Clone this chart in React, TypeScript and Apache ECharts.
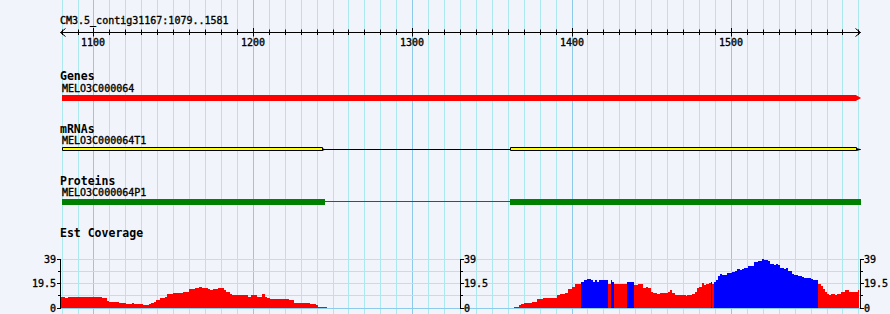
import React, { useEffect, useRef } from 'react';
import * as echarts from 'echarts';

// ---------- data ----------
const regionTitle = 'CM3.5_contig31167:1079..1581';
const regionStart = 1079;
const regionEnd = 1581;
const rulerTicks: number[] = [];
for (let v = 1080; v <= 1580; v += 10) rulerTicks.push(v);
const rulerMajorStep = 100;

const trackLabels = ['Genes', 'mRNAs', 'Proteins', 'Est Coverage'];

const geneName = 'MELO3C000064';
const geneSpan = [1080.2, 1581];
const mrnaName = 'MELO3C000064T1';
const mrnaExons = [
  [1080.2, 1243.5],
  [1361.4, 1581],
];
const proteinName = 'MELO3C000064P1';
const proteinExons = [
  [1080.2, 1245.3],
  [1361.4, 1581.4],
];

const covMax = 39;
const covScaleTicks = [0, 9.75, 19.5, 29.25, 39];
const covScaleMajor = [0, 19.5, 39];

const covStarts = [
  1079.4, 1081.9, 1084.0, 1105.1, 1108.7, 1109.5, 1116.0, 1120.4, 1124.2, 1125.4,
  1131.1, 1134.6, 1135.9, 1138.0, 1139.5, 1141.5, 1144.7, 1146.3, 1149.9, 1156.2,
  1160.0, 1163.5, 1166.2, 1168.3, 1171.7, 1173.1, 1175.2, 1178.4, 1181.9, 1183.2,
  1185.5, 1186.9, 1196.8, 1198.9, 1202.6, 1205.8, 1207.6, 1208.9, 1210.8, 1222.7,
  1226.0, 1235.9, 1239.4, 1240.7, 1246.3,
  1363.9, 1367.0, 1368.3, 1370.2, 1375.2, 1378.5, 1382.1, 1390.9, 1392.8, 1395.9,
  1398.0, 1400.1, 1402.2, 1405.9, 1407.8, 1409.7, 1412.2, 1413.5, 1414.7, 1416.0,
  1417.2, 1422.9, 1424.5, 1425.6, 1426.6, 1429.8, 1431.7, 1434.8, 1439.2, 1441.7,
  1444.8, 1446.7, 1448.0, 1449.9, 1451.1, 1453.6, 1455.5, 1460.5, 1461.8, 1463.0,
  1464.9, 1471.8, 1472.4, 1475.6, 1477.5, 1478.8, 1480.0, 1481.9, 1483.1, 1484.4,
  1486.3, 1487.6, 1488.3, 1489.4, 1490.6, 1491.9, 1493.2, 1494.4, 1497.6, 1500.7,
  1502.6, 1503.8, 1505.7, 1507.0, 1508.2, 1510.7, 1512.0, 1514.5, 1517.0, 1519.5,
  1520.8, 1523.3, 1524.5, 1527.0, 1528.3, 1529.5, 1530.8, 1533.3, 1534.6, 1535.8,
  1537.1, 1538.3, 1539.6, 1542.1, 1544.6, 1545.9, 1547.1, 1549.0, 1550.3, 1551.5,
  1554.7, 1556.5, 1557.8, 1559.1, 1560.3, 1561.6, 1562.8, 1565.3, 1566.6, 1569.1,
  1571.6, 1574.1, 1579.7,
];
const covValues = [
  8.7, 7.9, 8.7, 7.9, 5.8, 4.7, 4.0, 3.2, 4.0, 3.2,
  2.6, 3.2, 4.0, 5.0, 6.6, 7.9, 8.4, 11.1, 11.6, 12.6,
  15.0, 16.0, 16.9, 16.1, 15.0, 14.5, 15.3, 16.1, 14.5, 12.6,
  11.3, 10.5, 9.0, 10.5, 9.0, 11.3, 9.0, 8.2, 7.1, 6.1,
  4.2, 3.4, 2.6, 0.8, 0,
  0.8, 2.1, 2.9, 4.0, 4.7, 6.9, 7.9, 10.0, 10.8, 11.6,
  15.3, 16.6, 19.5, 20.3, 21.9, 22.9, 21.9, 20.3, 21.9, 20.3,
  21.9, 19.5, 21.9, 20.3, 19.5, 19.0, 19.5, 20.5, 18.2, 19.0,
  16.1, 16.9, 16.1, 12.6, 11.9, 11.1, 11.9, 12.6, 14.2, 12.1,
  10.3, 9.2, 10.3, 11.1, 12.6, 15.8, 16.9, 19.8, 18.7, 19.0,
  19.8, 20.6, 19.5, 20.6, 22.4, 25.3, 26.9, 26.1, 27.7, 28.5,
  29.8, 30.8, 30.3, 31.1, 32.1, 33.3, 33.7, 36.6, 37.7, 39.0,
  38.5, 37.2, 35.3, 34.3, 34.8, 34.3, 32.1, 30.8, 31.6, 29.8,
  29.2, 27.4, 26.6, 25.8, 24.8, 24.2, 23.5, 24.2, 22.9, 22.1,
  19.2, 17.7, 15.5, 12.6, 11.3, 10.5, 11.1, 10.5, 11.1, 12.6,
  14.0, 12.6, 14.2,
];
const covColors = [
  'r', 'r', 'r', 'r', 'r', 'r', 'r', 'r', 'r', 'r',
  'r', 'r', 'r', 'r', 'r', 'r', 'r', 'r', 'r', 'r',
  'r', 'r', 'r', 'r', 'r', 'r', 'r', 'r', 'r', 'r',
  'r', 'r', 'r', 'r', 'r', 'r', 'r', 'r', 'r', 'r',
  'r', 'r', 'r', 'r', 'r',
  'r', 'r', 'r', 'r', 'r', 'r', 'r', 'r', 'r', 'r',
  'r', 'r', 'r', 'b', 'b', 'b', 'b', 'b', 'b', 'b',
  'b', 'r', 'b', 'b', 'r', 'r', 'r', 'b', 'r', 'r',
  'r', 'r', 'r', 'r', 'r', 'r', 'r', 'r', 'r', 'r',
  'r', 'r', 'r', 'r', 'r', 'r', 'r', 'r', 'r', 'r',
  'r', 'b', 'r', 'b', 'b', 'b', 'b', 'b', 'b', 'b',
  'b', 'b', 'b', 'b', 'b', 'b', 'b', 'b', 'b', 'b',
  'b', 'b', 'b', 'b', 'b', 'b', 'b', 'b', 'b', 'b',
  'b', 'b', 'b', 'b', 'b', 'b', 'b', 'b', 'b', 'b',
  'r', 'r', 'r', 'r', 'r', 'r', 'r', 'r', 'r', 'r',
  'r', 'r', 'r',
];
const covEnd = 1580.4;

// ---------- styles ----------
const BG = '#f1f5fb';
const GRID_MINOR = '#ace9ef';
const GRID_MAJOR = '#8ccbeb';
const MONO = "'DejaVu Sans Mono', 'Liberation Mono', monospace";
const SMALL_FONT = `10px ${MONO}`;
const BOLD_FONT = `bold 11.5px ${MONO}`;
const RED = '#ff0000';
const BLUE = '#0000ff';
const YELLOW = '#ffff00';
const GREEN = '#008000';

const LAYOUT = {
  height: 314,
  titleY: 20.5,
  rulerY: 32.5,
  rulerLabelY: 42,
  labelY: [76, 128.5, 180.5, 232.5],
  geneNameY: 88,
  geneTop: 95,
  mrnaNameY: 140,
  mrnaTop: 147.5,
  proteinNameY: 192,
  proteinTop: 199,
};

function txt(text: string, x: number, y: number, font: string, align: string, z?: number) {
  const small = font === SMALL_FONT;
  const style: any = {
    text,
    font,
    fill: '#000',
    align,
    textAlign: align,
    verticalAlign: 'middle',
    textVerticalAlign: 'middle',
  };
  if (small) {
    style.stroke = '#000';
    style.lineWidth = 0.35;
  }
  const el: any = { type: 'text', x, y, silent: true, style };
  if (z != null) el.z = z;
  return el;
}

const px = (v: number) => Math.round(v);

function buildOption() {
  const covData = covStarts.map((s, i) => [
    s,
    i < covStarts.length - 1 ? covStarts[i + 1] : covEnd,
    covValues[i],
    covColors[i] === 'b' ? 1 : 0,
  ]);

  const gridLines = {
    type: 'custom',
    z: 1,
    clip: false,
    silent: true,
    data: rulerTicks.map((t) => [t, 0]),
    renderItem: (params: any, api: any) => {
      const v = api.value(0);
      const x = px(api.coord([v, 0])[0]) + 0.5;
      const major = v % rulerMajorStep === 0;
      return {
        type: 'line',
        shape: { x1: x, y1: 0, x2: x, y2: LAYOUT.height },
        style: { stroke: major ? GRID_MAJOR : GRID_MINOR, lineWidth: 1 },
      };
    },
  };

  const covGrid = {
    type: 'custom',
    z: 1,
    clip: false,
    silent: true,
    data: covScaleTicks.map((t) => [regionStart, t]),
    renderItem: (params: any, api: any) => {
      const v = api.value(1);
      const y = Math.floor(api.coord([regionStart, v])[1]) + 0.5;
      const x0 = api.coord([regionStart, 0])[0];
      const x1 = api.coord([regionEnd, 0])[0];
      return {
        type: 'line',
        shape: { x1: x0, y1: y, x2: x1, y2: y },
        style: { stroke: v === 0 ? GRID_MAJOR : GRID_MINOR, lineWidth: 1 },
      };
    },
  };

  const rulerTicksSeries = {
    type: 'custom',
    z: 5,
    clip: false,
    silent: true,
    data: rulerTicks.map((t) => [t, 0]),
    renderItem: (params: any, api: any) => {
      const v = api.value(0);
      const x = px(api.coord([v, 0])[0]) + 0.5;
      const major = v % rulerMajorStep === 0;
      const children: any[] = [
        {
          type: 'line',
          shape: { x1: x, y1: major ? 28 : 29.5, x2: x, y2: major ? 36.5 : 35 },
          style: { stroke: '#000', lineWidth: 1 },
        },
      ];
      if (major) children.push(txt(String(v), x - 0.5, LAYOUT.rulerLabelY, SMALL_FONT, 'center'));
      return { type: 'group', children };
    },
  };

  const rulerLine = {
    type: 'custom',
    z: 5,
    clip: false,
    silent: true,
    data: [[regionStart, regionEnd]],
    renderItem: (params: any, api: any) => {
      const x0 = px(api.coord([api.value(0), 0])[0]) + 0.5;
      const x1 = px(api.coord([api.value(1), 0])[0]) + 0.5;
      const y = LAYOUT.rulerY;
      return {
        type: 'group',
        children: [
          { type: 'line', shape: { x1: x0, y1: y, x2: x1, y2: y }, style: { stroke: '#000', lineWidth: 1 } },
          {
            type: 'polyline',
            shape: { points: [[x0 + 5, y - 4], [x0, y], [x0 + 5, y + 4]] },
            style: { stroke: '#000', lineWidth: 1, fill: 'none' },
          },
          {
            type: 'polyline',
            shape: { points: [[x1 - 5, y - 4], [x1, y], [x1 - 5, y + 4]] },
            style: { stroke: '#000', lineWidth: 1, fill: 'none' },
          },
          txt(regionTitle, 60, LAYOUT.titleY, SMALL_FONT, 'left'),
        ],
      };
    },
  };

  const geneSeries = {
    type: 'custom',
    z: 6,
    clip: false,
    silent: true,
    data: [geneSpan],
    renderItem: (params: any, api: any) => {
      const x0 = px(api.coord([api.value(0), 0])[0]);
      const x1 = px(api.coord([api.value(1), 0])[0]) + 1;
      const t = LAYOUT.geneTop;
      return {
        type: 'group',
        children: [
          {
            type: 'polygon',
            shape: {
              points: [
                [x0, t], [x1 - 5, t], [x1 - 4, t + 0.7], [x1 - 1.5, t + 2], [x1, t + 3],
                [x1 - 1.5, t + 4], [x1 - 4, t + 5.3], [x1 - 5, t + 6], [x0, t + 6],
              ],
            },
            style: { fill: RED },
          },
          txt(geneName, x0, LAYOUT.geneNameY, SMALL_FONT, 'left'),
        ],
      };
    },
  };

  const mrnaSeries = {
    type: 'custom',
    z: 6,
    clip: false,
    silent: true,
    data: mrnaExons,
    renderItem: (params: any, api: any) => {
      const i = params.dataIndex;
      const x0 = px(api.coord([api.value(0), 0])[0]);
      const x1 = px(api.coord([api.value(1), 0])[0]) + 1;
      const t = LAYOUT.mrnaTop;
      const last = i === mrnaExons.length - 1;
      const children: any[] = [];
      if (i > 0) {
        const pe = px(api.coord([mrnaExons[i - 1][1], 0])[0]) + 1;
        children.push({
          type: 'line',
          shape: { x1: pe, y1: t + 2, x2: x0, y2: t + 2 },
          style: { stroke: '#000', lineWidth: 1 },
        });
      }
      const boxEnd = last ? x1 - 4 : x1;
      children.push({
        type: 'rect',
        shape: { x: x0 + 0.5, y: t, width: boxEnd - x0 - 1, height: 3 },
        style: { fill: YELLOW, stroke: '#000', lineWidth: 1 },
      });
      if (last) {
        children.push({
          type: 'polygon',
          shape: { points: [[boxEnd - 0.5, t + 0.5], [x1, t + 1.8], [x1, t + 2.2], [boxEnd - 0.5, t + 3.5]] },
          style: { fill: '#000' },
        });
      } else {
        children.push({
          type: 'polygon',
          shape: { points: [[boxEnd - 1, t + 0.5], [boxEnd + 1.5, t + 1.5], [boxEnd + 1.5, t + 2.5], [boxEnd - 1, t + 3.5]] },
          style: { fill: '#000' },
        });
      }
      if (i === 0) children.push(txt(mrnaName, x0, LAYOUT.mrnaNameY, SMALL_FONT, 'left'));
      return { type: 'group', children };
    },
  };

  const proteinSeries = {
    type: 'custom',
    z: 6,
    clip: false,
    silent: true,
    data: proteinExons,
    renderItem: (params: any, api: any) => {
      const i = params.dataIndex;
      const x0 = px(api.coord([api.value(0), 0])[0]);
      const x1 = px(api.coord([api.value(1), 0])[0]);
      const t = LAYOUT.proteinTop;
      const children: any[] = [];
      if (i > 0) {
        const pe = px(api.coord([proteinExons[i - 1][1], 0])[0]);
        children.push({
          type: 'line',
          shape: { x1: pe, y1: t + 2.5, x2: x0, y2: t + 2.5 },
          style: { stroke: GREEN, lineWidth: 1 },
        });
      }
      children.push({
        type: 'rect',
        shape: { x: x0, y: t, width: x1 - x0, height: 6 },
        style: { fill: GREEN },
      });
      if (i === 0) children.push(txt(proteinName, x0, LAYOUT.proteinNameY, SMALL_FONT, 'left'));
      return { type: 'group', children };
    },
  };

  const covSeries = {
    type: 'custom',
    z: 4,
    clip: false,
    silent: true,
    data: covData,
    renderItem: (params: any, api: any) => {
      const v = api.value(2);
      if (!v) return null;
      const x0 = px(api.coord([api.value(0), 0])[0]);
      const x1 = px(api.coord([api.value(1), 0])[0]);
      const base = px(api.coord([api.value(0), 0])[1]);
      const top = px(api.coord([api.value(0), v])[1]);
      if (x1 <= x0) return null;
      return {
        type: 'rect',
        shape: { x: x0, y: top, width: x1 - x0, height: base - top },
        style: { fill: api.value(3) === 1 ? BLUE : RED },
      };
    },
  };

  const covAxisLines = {
    type: 'custom',
    z: 5,
    clip: false,
    silent: true,
    data: [[0, covMax]],
    renderItem: (params: any, api: any) => {
      const xl = api.coord([regionStart, 0])[0];
      const xr = api.coord([regionEnd, 0])[0];
      const xs = [xl, (xl + xr) / 2, xr].map((x) => px(x) + 0.5);
      const y0 = Math.floor(api.coord([regionStart, api.value(0)])[1]) + 1;
      const y1 = Math.floor(api.coord([regionStart, api.value(1)])[1]);
      return {
        type: 'group',
        children: xs.map((x) => ({
          type: 'line',
          shape: { x1: x, y1: y1, x2: x, y2: y0 },
          style: { stroke: '#000', lineWidth: 1 },
        })),
      };
    },
  };

  const covAxisTicks = {
    type: 'custom',
    z: 5,
    clip: false,
    silent: true,
    data: covScaleTicks.map((t) => [regionStart, t]),
    renderItem: (params: any, api: any) => {
      const v = api.value(1);
      const y = Math.floor(api.coord([regionStart, v])[1]) + 0.5;
      const xl = api.coord([regionStart, 0])[0];
      const xr = api.coord([regionEnd, 0])[0];
      const xs = [xl, (xl + xr) / 2, xr].map((x) => px(x));
      const major = covScaleMajor.indexOf(v) >= 0;
      const len = major ? 3 : 2;
      const label = String(v);
      const children: any[] = [];
      children.push({
        type: 'line',
        shape: { x1: xs[0] - len, y1: y, x2: xs[0] + 1, y2: y },
        style: { stroke: '#000', lineWidth: 1 },
      });
      if (major) children.push(txt(label, xs[0] - 4, y, SMALL_FONT, 'right'));
      for (let k = 1; k < 3; k++) {
        children.push({
          type: 'line',
          shape: { x1: xs[k], y1: y, x2: xs[k] + 1 + len, y2: y },
          style: { stroke: '#000', lineWidth: 1 },
        });
        if (major) children.push(txt(label, xs[k] + 4, y, SMALL_FONT, 'left'));
      }
      return { type: 'group', children };
    },
  };

  return {
    animation: false,
    backgroundColor: BG,
    tooltip: { show: false },
    grid: { left: 60, top: 259, width: 800, height: 49, show: false },
    xAxis: { type: 'value', min: regionStart, max: regionEnd, show: false },
    yAxis: { type: 'value', min: 0, max: covMax, show: false },
    graphic: trackLabels.map((label, i) => txt(label, 60, LAYOUT.labelY[i], BOLD_FONT, 'left', 100)),
    series: [
      gridLines,
      covGrid,
      covSeries,
      covAxisLines,
      covAxisTicks,
      rulerLine,
      rulerTicksSeries,
      geneSeries,
      mrnaSeries,
      proteinSeries,
    ],
  };
}

export default function App() {
  const ref = useRef<HTMLDivElement>(null);
  useEffect(() => {
    document.body.style.margin = '0';
    document.body.style.background = BG;
    const chart = echarts.init(ref.current as HTMLDivElement, null, { renderer: 'svg' });
    chart.setOption(buildOption() as any);
    return () => chart.dispose();
  }, []);
  return <div ref={ref} style={{ width: 890, height: 314 }} />;
}
